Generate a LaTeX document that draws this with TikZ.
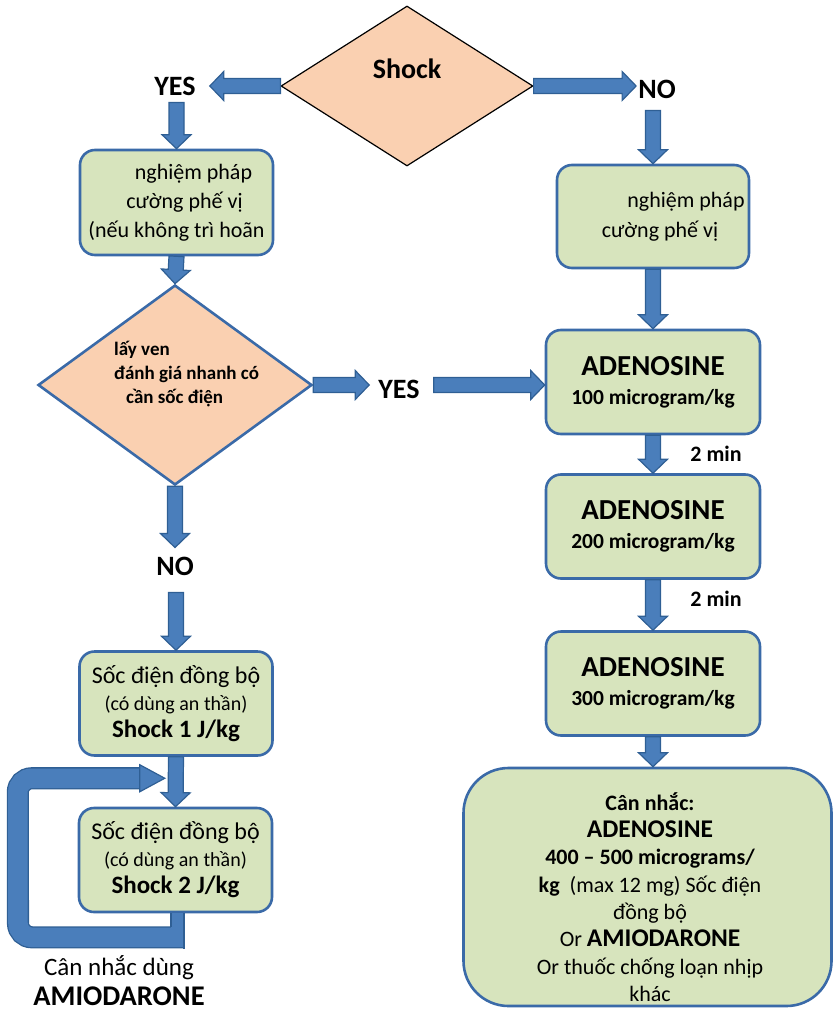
\documentclass[tikz,border=0pt]{standalone}
\usepackage{fontspec}
\setmainfont{Carlito}
\usepackage{tikz}
\usetikzlibrary{calc}
\usetikzlibrary{shapes.geometric}

\definecolor{boxgreen}{HTML}{D7E4BD}
\definecolor{boxblue}{HTML}{3A6AA8}
\definecolor{peach}{HTML}{FAD0B1}
\definecolor{arrfill}{HTML}{4A7EBB}
\definecolor{arrline}{HTML}{2F5F94}

% fat office-style arrow from #1 to #2
\newcommand{\blockarrow}[2]{%
  \path ($(#2)!14pt!(#1)$) coordinate (ah);
  \draw[blk] ($(#1)!7.5pt!90:(#2)$) -- ($(ah)!7.5pt!90:(#2)$)
    -- ($(ah)!14.5pt!90:(#2)$) -- (#2) -- ($(ah)!14.5pt!-90:(#2)$)
    -- ($(ah)!7.5pt!-90:(#2)$) -- ($(#1)!7.5pt!-90:(#2)$) -- cycle;}

\begin{document}
\begin{tikzpicture}[x=1pt,y=-1pt,
    stepbox/.style={draw=boxblue, line width=2.6pt, fill=boxgreen,
      rounded corners=15pt, align=center, inner sep=0pt},
    adebox/.style={stepbox, minimum width=214pt, minimum height=104pt,
      font=\bfseries\fontsize{21.5}{29}\selectfont},
    socbox/.style={stepbox, minimum width=193pt, minimum height=104pt,
      font=\fontsize{24}{27}\selectfont},
    decide/.style={diamond, fill=peach, inner sep=0pt},
    lbl/.style={font=\bfseries\fontsize{28}{30}\selectfont, inner sep=0pt},
    blk/.style={fill=arrfill, draw=arrline, line width=1.2pt},
    loopband/.style={draw=arrline, line width=1.3pt, double=arrfill,
      double distance=19.5pt, rounded corners=14pt}]
  \useasboundingbox (0,0) rectangle (834,1014);

  % decisions
  \node[decide, draw=black, line width=1.2pt, minimum width=252pt,
    minimum height=160pt] (shock) at (407,86) {};
  \node[decide, draw=boxblue, line width=2.6pt, minimum width=274pt,
    minimum height=200pt] (ask) at (175,385) {};

  % left column
  \node[stepbox, minimum width=193pt, minimum height=105pt,
    font=\fontsize{22}{29}\selectfont] (chkL) at (176.5,202.5)
    {\hspace*{34pt}nghiệm pháp\\\hspace*{16pt}cường phế vị\\(nếu không trì hoãn};
  \node[socbox] (socA) at (176,703.5)
    {Sốc điện đồng bộ\\{\fontsize{20}{27}\selectfont(có dùng an thần)}\\
     {\bfseries\fontsize{25}{27}\selectfont Shock 1 J/kg}};
  \node[socbox] (socB) at (175.5,860)
    {Sốc điện đồng bộ\\{\fontsize{20}{27}\selectfont(có dùng an thần)}\\
     {\bfseries\fontsize{25}{27}\selectfont Shock 2 J/kg}};

  % right column
  \node[stepbox, minimum width=192pt, minimum height=103pt,
    font=\fontsize{22}{30}\selectfont] (chkR) at (653,216.5)
    {\hspace*{66pt}nghiệm pháp\\\hspace*{14pt}cường phế vị};
  \node[adebox] (adeA) at (653,382)
    {{\fontsize{29}{29}\selectfont ADENOSINE}\\100 microgram/kg};
  \node[adebox] (adeB) at (653,526.5)
    {{\fontsize{29}{29}\selectfont ADENOSINE}\\200 microgram/kg};
  \node[adebox] (adeC) at (653,683.5)
    {{\fontsize{29}{29}\selectfont ADENOSINE}\\300 microgram/kg};
  \node[stepbox, rounded corners=45pt, minimum width=368pt,
    minimum height=238pt] (adeD) at (647.5,887) {};
  \node[align=center, inner sep=0pt, font=\fontsize{22}{27.3}\selectfont]
    (adeDtxt) at (650,897)
    {{\bfseries Cân nhắc:}\\
     {\bfseries\fontsize{25.5}{27}\selectfont ADENOSINE}\\
     {\bfseries 400 – 500 micrograms/}\\
     {\bfseries kg}\ \ (max 12 mg) Sốc điện\\
     đồng bộ\\
     Or {\bfseries\fontsize{25.5}{27}\selectfont AMIODARONE}\\
     Or thuốc chống loạn nhịp\\
     khác};

  % labels
  \node[lbl] (shocktxt) at (407,69) {Shock};
  \node[lbl] (yesA) at (175,86) {YES};
  \node[lbl] (noA) at (657,89) {NO};
  \node[lbl] (yesB) at (399,389) {YES};
  \node[lbl] (noB) at (175,566) {NO};
  \node[font=\bfseries\fontsize{22}{24}\selectfont, inner sep=0pt]
    (minA) at (716,453.5) {2 min};
  \node[font=\bfseries\fontsize{22}{24}\selectfont, inner sep=0pt]
    (minB) at (716,598.5) {2 min};
  \node[font=\bfseries\fontsize{19}{24}\selectfont, align=left,
    inner sep=0pt, anchor=west] (asktxt) at (114,374)
    {lấy ven\\đánh giá nhanh có\\\hspace*{12pt}cần sốc điện};
  \node[align=center, inner sep=0pt, font=\fontsize{25}{30}\selectfont]
    (amio) at (119,981)
    {Cân nhắc dùng\\{\bfseries\fontsize{28.5}{30}\selectfont AMIODARONE}};

  % arrow ends
  \coordinate (yesAtip) at ($(yesA.east |- shock.west)+(14,0)$);
  \coordinate (noAtip) at ($(noA.west |- shock.east)+(-2,0)$);
  \coordinate (yesAtail) at ($(chkL.north |- yesA.south)+(0,7)$);
  \coordinate (noAtail) at ($(chkR.north |- noA.south)+(0,12)$);
  \coordinate (yesBtip) at ($(yesB.west |- ask.east)+(-9,0)$);
  \coordinate (yesBtail) at ($(yesB.east |- ask.east)+(14,0)$);
  \coordinate (noBtip) at ($(ask.south |- noB.north)+(0,-9)$);
  \coordinate (noBtail) at ($(socA.north |- noB.south)+(0,17)$);
  \coordinate (loopin) at ($(socA.south)!0.43!(socB.north)+(-11,0)$);

  \blockarrow{shock.west}{yesAtip}
  \blockarrow{shock.east}{noAtip}
  \blockarrow{yesAtail}{chkL.north}
  \blockarrow{noAtail}{chkR.north}
  \blockarrow{chkL.south}{ask.north}
  \blockarrow{chkR.south}{adeA.north}
  \blockarrow{ask.east}{yesBtip}
  \blockarrow{yesBtail}{adeA.west |- ask.east}
  \blockarrow{ask.south}{noBtip}
  \blockarrow{noBtail}{socA.north}
  \blockarrow{adeA.south}{adeB.north}
  \blockarrow{adeB.south}{adeC.north}
  \blockarrow{adeC.south}{adeC.south |- adeD.north}
  \blockarrow{socA.south}{socB.north}

  % repeat loop
  \draw[loopband] ($(socB.south)+(8.5,24)$) -- ++(-166,0)
    -- ($(loopin)+(-147,0)$) -- ($(loopin)+(-24,0)$);
  \fill[arrfill] ($(socB.south)+(-4.5,0)$) rectangle ($(socB.south)+(8,26)$);
  \draw[arrline, line width=1.2pt] ($(socB.south)+(-4.5,0)$) -- ++(0,13.5);
  \draw[arrline, line width=1.2pt] ($(socB.south)+(8.5,0)$) -- ++(0,35.5);
  \draw[blk] ($(loopin)+(-25,-13.5)$) -- (loopin) -- ($(loopin)+(-25,13.5)$) -- cycle;
\end{tikzpicture}
\end{document}
